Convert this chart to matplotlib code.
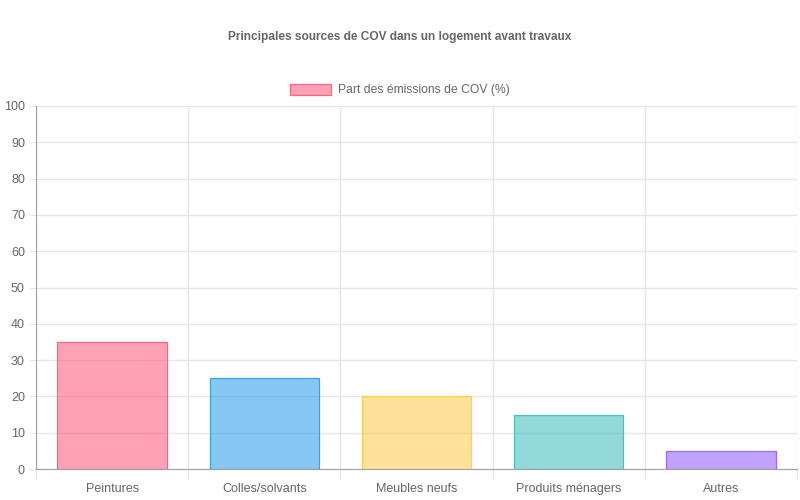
import matplotlib.pyplot as plt
from matplotlib.patches import Patch

plt.rcParams['font.family'] = ['Liberation Sans', 'DejaVu Sans']

# ── Données ───────────────────────────────────────────────────────────────────
categories = ['Peintures', 'Colles/solvants', 'Meubles neufs', 'Produits ménagers', 'Autres']
valeurs = [35, 25, 20, 15, 5]
serie = 'Part des émissions de COV (%)'
titre = 'Principales sources de COV dans un logement avant travaux'

fonds = [(1.0, 0.388, 0.518, 0.6), (0.212, 0.635, 0.922, 0.6), (1.0, 0.808, 0.337, 0.6),
         (0.294, 0.753, 0.753, 0.6), (0.6, 0.4, 1.0, 0.6)]
bords = [(1.0, 0.388, 0.518), (0.212, 0.635, 0.922), (1.0, 0.808, 0.337),
         (0.294, 0.753, 0.753), (0.6, 0.4, 1.0)]

# ── Figure ────────────────────────────────────────────────────────────────────
fig = plt.figure(figsize=(8, 5), dpi=100)
ax = fig.add_axes([36 / 800, 1 - 469 / 500, (797 - 36) / 800, (469 - 106) / 500])

x = range(len(categories))
ax.bar(x, valeurs, width=0.72, color=fonds, edgecolor=bords, linewidth=0.9, zorder=3)

ax.set_xlim(-0.5, len(categories) - 0.5)
ax.set_ylim(0, 100)
ax.set_yticks(range(0, 101, 10))
ax.set_xticks(list(x))
ax.set_xticklabels(categories)
ax.set_xticks([i - 0.5 for i in range(len(categories) + 1)], minor=True)

grille = '#e6e6e6'
ax.grid(axis='y', color=grille, linewidth=1, zorder=0)
ax.grid(axis='x', which='minor', color=grille, linewidth=1, zorder=0)
ax.tick_params(axis='x', which='major', length=0, pad=10, labelsize=9, labelcolor='#666666')
ax.tick_params(axis='x', which='minor', length=7.5, color=grille, width=1)
ax.tick_params(axis='y', length=5, color=grille, labelsize=9, labelcolor='#666666', pad=3)

for cote in ['top', 'right']:
    ax.spines[cote].set_visible(False)
ax.spines['left'].set_color('#a0a0a0')
ax.spines['bottom'].set_color('#a0a0a0')

fig.text(0.5, 1 - 37 / 500, titre, ha='center', va='center',
         fontsize=8.6, fontweight='bold', color='#666666')

poignee = Patch(facecolor=fonds[0], edgecolor=bords[0], linewidth=0.9)
fig.legend([poignee], [serie], loc='center', bbox_to_anchor=(0.5, 1 - 90 / 500),
           frameon=False, fontsize=8.7, labelcolor='#666666',
           handlelength=3.4, handleheight=1.1, handletextpad=0.55)

fig.savefig('out.png', dpi=100)
